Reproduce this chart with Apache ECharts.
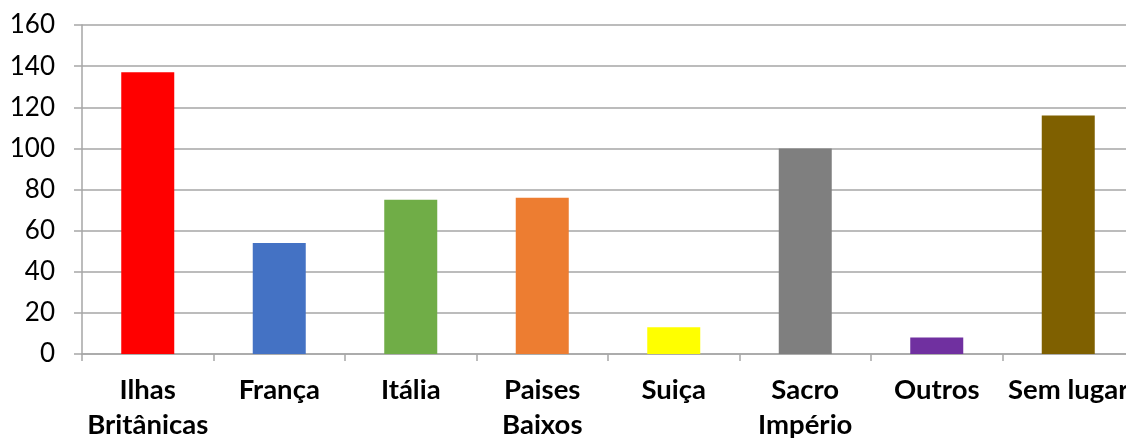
<!DOCTYPE html>
<html><head><meta charset="utf-8">
<script src="https://cdn.jsdelivr.net/npm/echarts@6/dist/echarts.min.js"></script>
<style>html,body{margin:0;padding:0;background:#fff}#c{width:1126px;height:439px}</style>
</head><body><div id="c"></div>
<script>
const categories = ['Ilhas\nBritânicas','França','Itália','Paises\nBaixos','Suiça','Sacro\nImpério','Outros','Sem lugar'];
const values = [137, 54, 75, 76, 13, 100, 8, 116];
const colors = ['#FF0000','#4472C4','#70AD47','#ED7D31','#FFFF00','#7F7F7F','#7030A0','#7F6000'];
const yTicks = {min: 0, max: 160, interval: 20};

const chart = echarts.init(document.getElementById('c'));
chart.setOption({
  animation: false,
  grid: {left: 82, right: -8, top: 25, bottom: 85, containLabel: false, outerBoundsMode: 'none'},
  xAxis: {
    type: 'category', data: categories,
    axisLine: {lineStyle: {color: '#A6A6A6', width: 1.5}},
    axisTick: {show: true, length: 7, lineStyle: {color: '#A6A6A6', width: 1.5}},
    axisLabel: {fontFamily: 'Lato, "Open Sans", sans-serif', fontWeight: 'bold', fontSize: 27.5, color: '#000', lineHeight: 35, margin: 19, interval: 0}
  },
  yAxis: {
    type: 'value', min: yTicks.min, max: yTicks.max, interval: yTicks.interval,
    axisLine: {show: true, lineStyle: {color: '#A6A6A6', width: 1.5}},
    axisTick: {show: true, length: 8, lineStyle: {color: '#A6A6A6', width: 1.5}},
    splitLine: {lineStyle: {color: '#A6A6A6', width: 1.5}},
    axisLabel: {fontFamily: 'Lato, "Open Sans", sans-serif', fontSize: 26, color: '#000', margin: 27}
  },
  series: [{
    type: 'bar', barWidth: 53,
    data: values.map((v, i) => ({value: v, itemStyle: {color: colors[i]}}))
  }]
});
</script></body></html>
